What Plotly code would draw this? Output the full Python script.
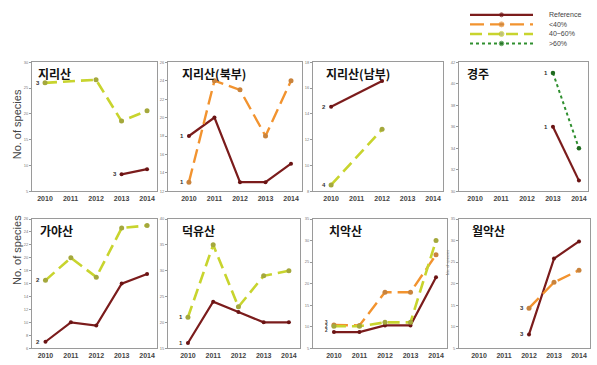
import plotly.graph_objects as go

W, H = 597, 365

years = [2010, 2011, 2012, 2013, 2014]

panel_titles = ["지리산", "지리산(북부)", "지리산(남부)", "경주",
                "가야산", "덕유산", "치악산", "월악산"]

# series values per panel (None = no survey)
ref_vals = [
    [None, None, None, 8.3, 9.3],
    [18, 20, 13, 13, 15],
    [14.55, None, 16.55, None, None],
    [None, None, None, 36, 31],
    [7, 10, 9.5, 16, 17.5],
    [16, 24, 22, 20, 20],
    [8.75, 8.75, 10.3, 10.3, 21.5],
    [None, None, 8.2, 25.8, 29.8],
]
lt40_vals = [
    None,
    [13, 24, 23, 18, 24],
    None,
    None,
    None,
    None,
    [10.4, 10.3, 18, 18, 26.7],
    [None, None, 14.3, 20.3, 23.1],
]
mid_vals = [
    [26.0, None, 26.6, 18.6, 20.6],
    None,
    [8.5, None, 12.8, None, None],
    None,
    [16.5, 20, 17, 24.6, 25],
    [21, 35, 23, 29, 30],
    [10.1, 10.1, 11, 11, 30],
    None,
]
gt60_vals = [None, None, None, [None, None, None, 41, 34], None, None, None, None]

# y axis tick ranges (min, max, step)
y_ticks = [(5, 30, 5), (12, 26, 2), (8, 18, 2), (30, 42, 2),
           (6, 26, 2), (15, 40, 5), (5, 35, 5), (5, 35, 5)]

# count labels near the first point: (series, year, text)
count_labels = [
    [("mid", 2010, "3"), ("ref", 2013, "3")],
    [("ref", 2010, "1"), ("lt40", 2010, "1")],
    [("ref", 2010, "2"), ("mid", 2010, "4")],
    [("gt60", 2013, "1"), ("ref", 2013, "1")],
    [("mid", 2010, "2"), ("ref", 2010, "2")],
    [("mid", 2010, "1"), ("ref", 2010, "1")],
    [],
    [("lt40", 2012, "3"), ("ref", 2012, "3")],
]

series_keys = ["ref", "lt40", "mid", "gt60"]
series_names = ["Reference", "<40%", "40~60%", ">60%"]

# ---- layout (pixel boxes) ----
boxes = [  # left, right, top, bottom
    (32, 157, 60, 191), (168, 302, 60, 191), (313, 443, 60, 191), (459, 588, 60, 191),
    (32, 157, 219, 350), (168, 300, 219, 350), (313, 447, 219, 350), (459, 590, 219, 350),
]
x_ranges = [(2009.49, 2014.39), (2009.18, 2014.43), (2009.29, 2014.39), (2009.38, 2014.35),
            (2009.47, 2014.39), (2009.21, 2014.44), (2009.18, 2014.43), (2009.2, 2014.44)]
title_offsets = [6, 14, 13, 8, 8, 14, 16, 13]

styles = {
    "ref": dict(line=dict(color="#7b1c1c", width=2.2), marker=dict(color="#6a1414", size=4)),
    "lt40": dict(line=dict(color="#f2932f", width=2.4, dash="14px,6px"),
                 marker=dict(color="#c9833c", size=5)),
    "mid": dict(line=dict(color="#c8d42e", width=2.6, dash="12px,6px"),
                marker=dict(color="#a4a83c", size=5)),
    "gt60": dict(line=dict(color="#2f8f2f", width=2, dash="dot"),
                 marker=dict(color="#1f6b1f", size=4.5)),
}

fig = go.Figure()
annotations = []
layout_axes = {}

all_series = {"ref": ref_vals, "lt40": lt40_vals, "mid": mid_vals, "gt60": gt60_vals}

for i in range(8):
    n = i + 1
    xa = "x" if n == 1 else f"x{n}"
    ya = "y" if n == 1 else f"y{n}"
    l, r, t, b = boxes[i]
    y0, y1, ys = y_ticks[i]
    layout_axes["xaxis" if n == 1 else f"xaxis{n}"] = dict(
        domain=[l / W, r / W], anchor=ya, range=list(x_ranges[i]),
        tickvals=years, ticktext=[f"<b>{v}</b>" for v in years],
        tickfont=dict(size=7, color="#444", family="Liberation Sans"),
        showline=True, mirror=True, linecolor="#9a9a9a", linewidth=1,
        showgrid=False, zeroline=False, ticks="", ticklen=0,
    )
    layout_axes["yaxis" if n == 1 else f"yaxis{n}"] = dict(
        domain=[1 - b / H, 1 - t / H], anchor=xa, range=[y0, y1],
        tickvals=list(range(y0, y1 + 1, ys)),
        tickfont=dict(size=4, color="#777", family="Liberation Sans"),
        showline=True, mirror=True, linecolor="#9a9a9a", linewidth=1,
        showgrid=False, zeroline=False, ticks="outside", ticklen=2, tickcolor="#999",
    )
    for key in series_keys:
        vals = all_series[key][i]
        if vals is None:
            continue
        st = styles[key]
        fig.add_trace(go.Scatter(
            x=years, y=vals, xaxis=xa, yaxis=ya, mode="lines+markers",
            line=st["line"], marker=st["marker"], connectgaps=True,
            showlegend=False, hoverinfo="skip",
        ))
    # panel title
    annotations.append(dict(
        text=f"<b>{panel_titles[i]}</b>", xref="paper", yref="paper",
        x=(l + title_offsets[i] - 2) / W, y=1 - (t + 1) / H, xanchor="left", yanchor="top",
        showarrow=False, font=dict(size=12, color="#111", family="Noto Sans CJK KR"),
    ))
    for key, yr, txt in count_labels[i]:
        v = all_series[key][i][years.index(yr)]
        annotations.append(dict(
            text=f"<b>{txt}</b>", xref=xa, yref=ya, x=yr, y=v,
            xshift=-7, showarrow=False,
            font=dict(size=6, color="#333", family="Liberation Sans"),
        ))

# stacked labels in 치악산
for k, txt in enumerate(["3", "2", "2"]):
    annotations.append(dict(
        text=f"<b>{txt}</b>", xref="x7", yref="y7", x=2010, y=10.0,
        xshift=-7, yshift=4 - k * 4, showarrow=False,
        font=dict(size=4.5, color="#333", family="Liberation Sans"),
    ))

# y axis titles
for yc in [123, 288]:
    annotations.append(dict(
        text="No. of species", xref="paper", yref="paper", x=9 / W, y=1 - yc / H,
        textangle=-90, showarrow=False,
        font=dict(size=11, color="#444", family="Liberation Sans"),
    ))
annotations.append(dict(
    text="No. of species", xref="paper", yref="paper", x=452 / W, y=1 - 278 / H,
    textangle=-90, showarrow=False,
    font=dict(size=4, color="#777", family="Liberation Sans"),
))

# ---- manual legend on a hidden axis ----
leg_rows = [0, 1, 2, 3]
layout_axes["xaxis9"] = dict(domain=[470 / W, 533 / W], range=[0, 1], visible=False,
                             anchor="y9", fixedrange=True)
layout_axes["yaxis9"] = dict(domain=[1 - 45 / H, 1 - 8 / H], range=[3.41, -0.414],
                             visible=False, anchor="x9", fixedrange=True)
for k, key in enumerate(series_keys):
    st = styles[key]
    fig.add_trace(go.Scatter(
        x=[0, 0.5, 1], y=[leg_rows[k]] * 3, xaxis="x9", yaxis="y9",
        mode="lines+markers", line=st["line"],
        marker=dict(color=st["marker"]["color"], size=[0, st["marker"]["size"], 0]),
        showlegend=False, hoverinfo="skip",
    ))
    annotations.append(dict(
        text=series_names[k], xref="paper", yref="y9", x=547 / W, y=leg_rows[k],
        xanchor="left", showarrow=False,
        font=dict(size=7, color="#444", family="Liberation Sans"),
    ))

fig.update_layout(
    width=W, height=H, margin=dict(l=0, r=0, t=0, b=0),
    paper_bgcolor="white", plot_bgcolor="white",
    annotations=annotations, showlegend=False,
    **layout_axes,
)

fig.write_html("out.html")
